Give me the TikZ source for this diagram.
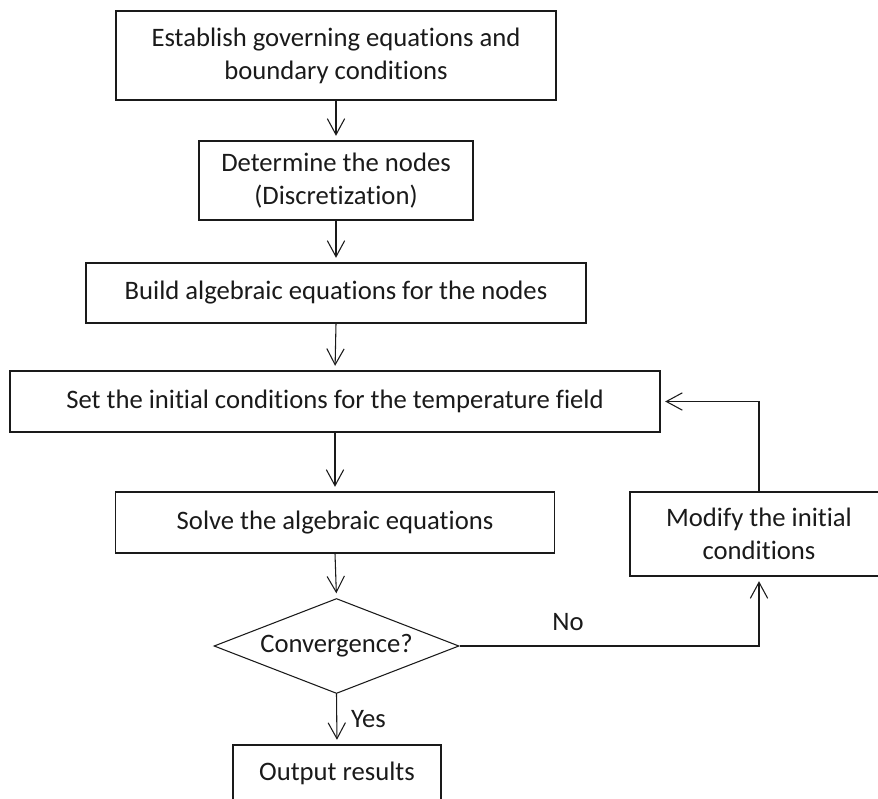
\documentclass[tikz,border=0pt]{standalone}
\usepackage{fontspec}
\setmainfont{Carlito}[Ligatures=NoCommon]
\definecolor{FlowInk}{HTML}{1A1A1A}
\usepackage{tikz}
\usetikzlibrary{arrows.meta,positioning,shapes.geometric}

\begin{document}
\begin{tikzpicture}[x=0.75pt,y=-0.75pt,>={Straight Barb[length=12pt,width=13pt]},
    stepbox/.style={draw=FlowInk,line width=0.8pt,inner sep=0pt,align=center,
      text=FlowInk,font=\fontsize{20}{24.75}\selectfont},
    testbox/.style={stepbox,diamond,shape aspect=2.58},
    flow/.style={->,draw=FlowInk,line width=0.8pt,shorten >=3.5pt},
    tag/.style={text=FlowInk,font=\fontsize{20}{24.75}\selectfont}]
    \useasboundingbox (0,0) rectangle (878,799);
    \node[stepbox,minimum width=330pt,minimum height=66.75pt] (establish) at (336,55.5)
      {Establish governing equations and\\boundary conditions};
    \node[stepbox,minimum width=205.5pt,minimum height=59.25pt] (discret) at (336,180.5)
      {Determine the nodes\\(Discretization)};
    \node[stepbox,minimum width=375pt,minimum height=45pt] (build) at (336,293)
      {Build algebraic equations for the nodes};
    \node[stepbox,minimum width=487.5pt,minimum height=45.75pt] (initial) at (335,401.5)
      {Set the initial conditions for the temperature field};
    \node[stepbox,minimum width=329.25pt,minimum height=45.75pt] (solve) at (335,522.5)
      {Solve the algebraic equations};
    \node[testbox,minimum width=183.75pt,minimum height=71.25pt] (conv) at (336.5,646)
      {Convergence?};
    \node[stepbox,minimum width=156pt,minimum height=42pt] (output) at (337,773)
      {Output results};
    \node[stepbox,minimum width=193.5pt,minimum height=63pt] (modify) at (759,534)
      {Modify the initial\\conditions};

    \foreach \a/\b in {establish/discret,discret/build,build/initial,initial/solve,solve/conv} {
      \draw[flow] (\a.south) -- (\b.north);
    }
    \draw[flow] (conv.south) -- node[tag,right=7pt] (yes) {Yes} (output.north);
    \draw[flow] (conv.east) -| (modify.south);
    \node[tag] (no) at (568,622) {No};
    \draw[flow] (modify.north) |- (initial.east);
  \end{tikzpicture}
\end{document}
